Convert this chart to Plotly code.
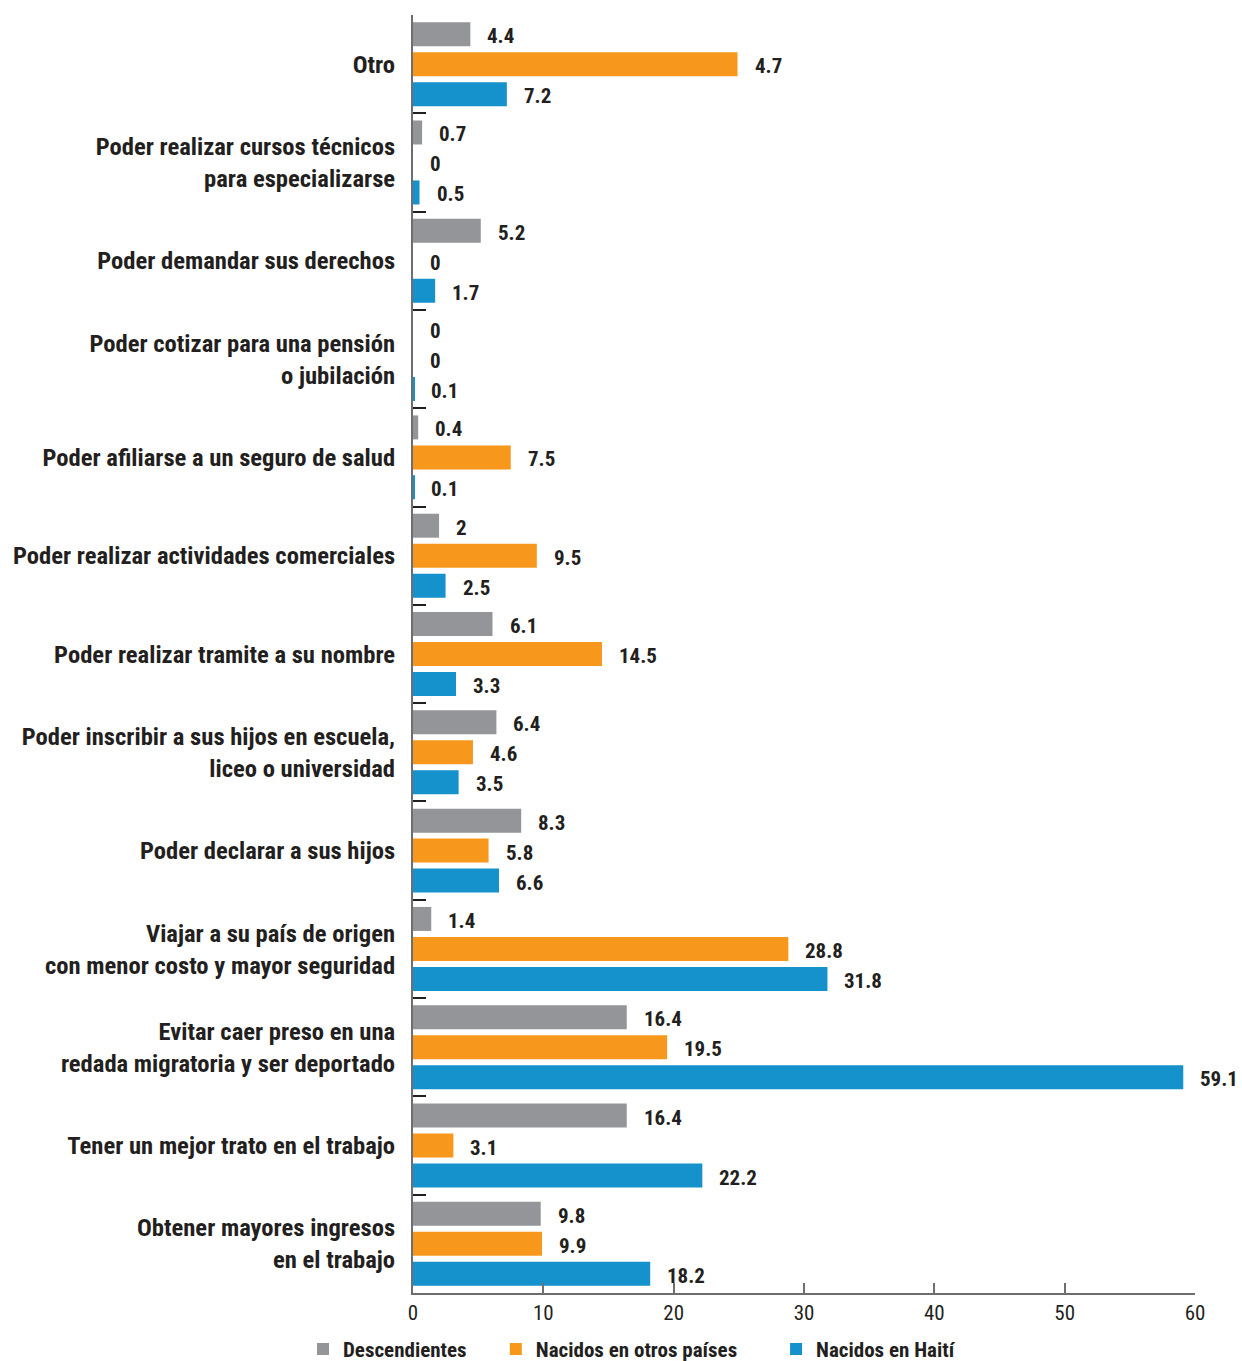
import plotly.graph_objects as go

categories = [
    "Otro",
    "Poder realizar cursos técnicos<br>para especializarse",
    "Poder demandar sus derechos",
    "Poder cotizar para una pensión<br>o jubilación",
    "Poder afiliarse a un seguro de salud",
    "Poder realizar actividades comerciales",
    "Poder realizar tramite a su nombre",
    "Poder inscribir a sus hijos en escuela,<br>liceo o universidad",
    "Poder declarar a sus hijos",
    "Viajar a su país de origen<br>con menor costo y mayor seguridad",
    "Evitar caer preso en una<br>redada migratoria y ser deportado",
    "Tener un mejor trato en el trabajo",
    "Obtener mayores ingresos<br>en el trabajo",
]

descendientes = [4.4, 0.7, 5.2, 0, 0.4, 2, 6.1, 6.4, 8.3, 1.4, 16.4, 16.4, 9.8]
# bar lengths as drawn in the source (the "Otro" bar is drawn much longer than its 4.7 label)
otros_paises = [24.9, 0, 0, 0, 7.5, 9.5, 14.5, 4.6, 5.8, 28.8, 19.5, 3.1, 9.9]
otros_paises_labels = ["4.7", "0", "0", "0", "7.5", "9.5", "14.5", "4.6", "5.8", "28.8", "19.5", "3.1", "9.9"]
haiti = [7.2, 0.5, 1.7, 0.1, 0.1, 2.5, 3.3, 3.5, 6.6, 31.8, 59.1, 22.2, 18.2]

series_names = ["Descendientes", "Nacidos en otros países", "Nacidos en Haití"]
legend_pad = [5, 7, 0]
colors = ["#939598", "#F7981D", "#1591CB"]
x_ticks = [0, 10, 20, 30, 40, 50, 60]

def fmt(v):
    return str(int(v)) if float(v).is_integer() else f"{v:g}"

series = [
    (descendientes, [fmt(v) for v in descendientes]),
    (otros_paises, otros_paises_labels),
    (haiti, [fmt(v) for v in haiti]),
]

FONT = "Roboto Condensed, Lato, sans-serif"
TXT = "#231F20"

fig = go.Figure()
for (vals, _), name, pad, col in zip(series, series_names, legend_pad, colors):
    fig.add_trace(go.Bar(
        y=categories, x=vals, name=name + "\u00a0" * pad, orientation="h",
        marker=dict(color=col, line=dict(width=0)),
        hoverinfo="x+name",
    ))

annotations = []
shifts = [30, 0, -30]
for (vals, labels), ys in zip(series, shifts):
    for cat, v, lab in zip(categories, vals, labels):
        annotations.append(dict(
            x=v, y=cat, xref="x", yref="y", text="<b>%s</b>" % lab,
            showarrow=False, xanchor="left", yanchor="middle",
            xshift=15, yshift=ys - 2,
            font=dict(family=FONT, size=21, color=TXT),
        ))

fig.update_layout(
    width=1242, height=1361,
    margin=dict(l=413, r=47, t=15, b=68, autoexpand=False),
    paper_bgcolor="white", plot_bgcolor="white",
    barmode="group", bargap=0.085, bargroupgap=0.2,
    font=dict(family=FONT, color=TXT),
    annotations=annotations,
    showlegend=True,
    legend=dict(
        orientation="h", x=303 / 1242, xanchor="left", xref="container",
        y=-0.044, yanchor="middle",
        font=dict(family=FONT, size=21, color=TXT, weight="bold"),
        traceorder="normal", itemwidth=30,
    ),
)

fig.update_xaxes(
    range=[0, 60], tickvals=x_ticks,
    showgrid=False, zeroline=False,
    showline=True, linecolor="#6D6E71", linewidth=2,
    ticks="inside", ticklen=10, tickcolor="#6D6E71", tickwidth=1.5,
    tickfont=dict(family=FONT, size=21, color=TXT),
    fixedrange=True,
)
fig.update_yaxes(
    autorange="reversed", type="category",
    showgrid=False, zeroline=False,
    showline=True, linecolor="#6D6E71", linewidth=2,
    ticks="inside", tickson="boundaries", ticklen=13, tickcolor=TXT, tickwidth=1.5,
    tickfont=dict(family=FONT, size=24.6, color=TXT, weight="bold"),
    ticklabelstandoff=11,
    fixedrange=True,
)

fig.write_html("out.html", config={"displayModeBar": False},
               post_script="document.body.style.margin='0';")
